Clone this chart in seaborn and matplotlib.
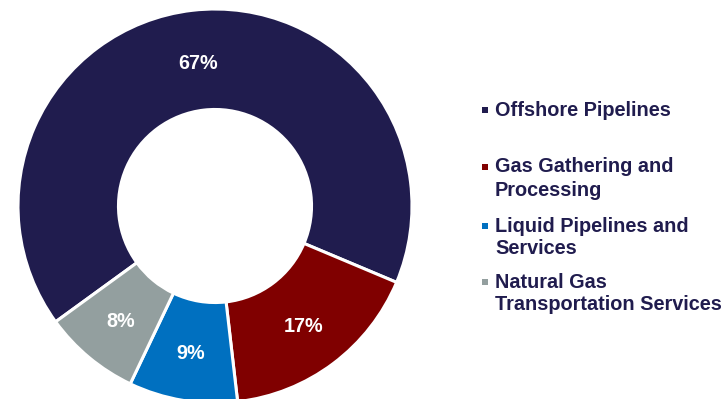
import matplotlib
matplotlib.use("Agg")
import matplotlib.pyplot as plt
from matplotlib.patches import Rectangle
import seaborn as sns

# Segment shares (%)
segments = ["Offshore Pipelines",
            "Gas Gathering and\nProcessing",
            "Liquid Pipelines and\nServices",
            "Natural Gas\nTransportation Services"]
shares = [67, 17, 9, 8]
colors = ["#201C4E", "#800000", "#0070C0", "#939F9F"]
label_color = "#201C4E"

sns.set_theme(style="white")
plt.rcParams["font.family"] = ["Liberation Sans", "DejaVu Sans"]

W, H = 725, 399
fig = plt.figure(figsize=(W / 100, H / 100), dpi=100)
fig.patch.set_facecolor("white")

# Donut axes: centre (215, 206) px from top-left, outer radius 197 px
cx, cy, r = 215, 206, 197
ax = fig.add_axes([(cx - r) / W, (H - cy - r) / H, 2 * r / W, 2 * r / H])
ax.set_facecolor("none")

wedges, texts, autotexts = ax.pie(
    shares,
    colors=colors,
    startangle=216,
    counterclock=False,
    radius=1.0,
    wedgeprops=dict(width=0.51, edgecolor="white", linewidth=2.2),
    autopct=lambda p: "",
    pctdistance=0.745,
)
for t, v in zip(autotexts, shares):
    t.set_text(f"{v}%")
    t.set_color("white")
    t.set_fontsize(14.2)
    t.set_fontweight("bold")
    x, y = t.get_position()
    t.set_position((x, y - 3.0 / r))  # nudge so glyphs sit on the ring's midline
ax.set_xlim(-1, 1)
ax.set_ylim(-1, 1)
ax.axis("off")

# Legend, drawn as square markers with wrapped labels
text_x = 495
first_line_y = [110, 167, 226, 282]
line_gap = 23
for name, col, y in zip(segments, colors, first_line_y):
    fig.patches.append(Rectangle(((text_x - 13) / W, (H - y - 3) / H), 6 / W, 6 / H,
                                 transform=fig.transFigure, facecolor=col,
                                 edgecolor="none"))
    for i, line in enumerate(name.split("\n")):
        fig.text(text_x / W, (H - y - i * line_gap) / H, line,
                 ha="left", va="center", fontsize=14.3, fontweight="bold",
                 color=label_color)

fig.savefig("out.png", dpi=100)
